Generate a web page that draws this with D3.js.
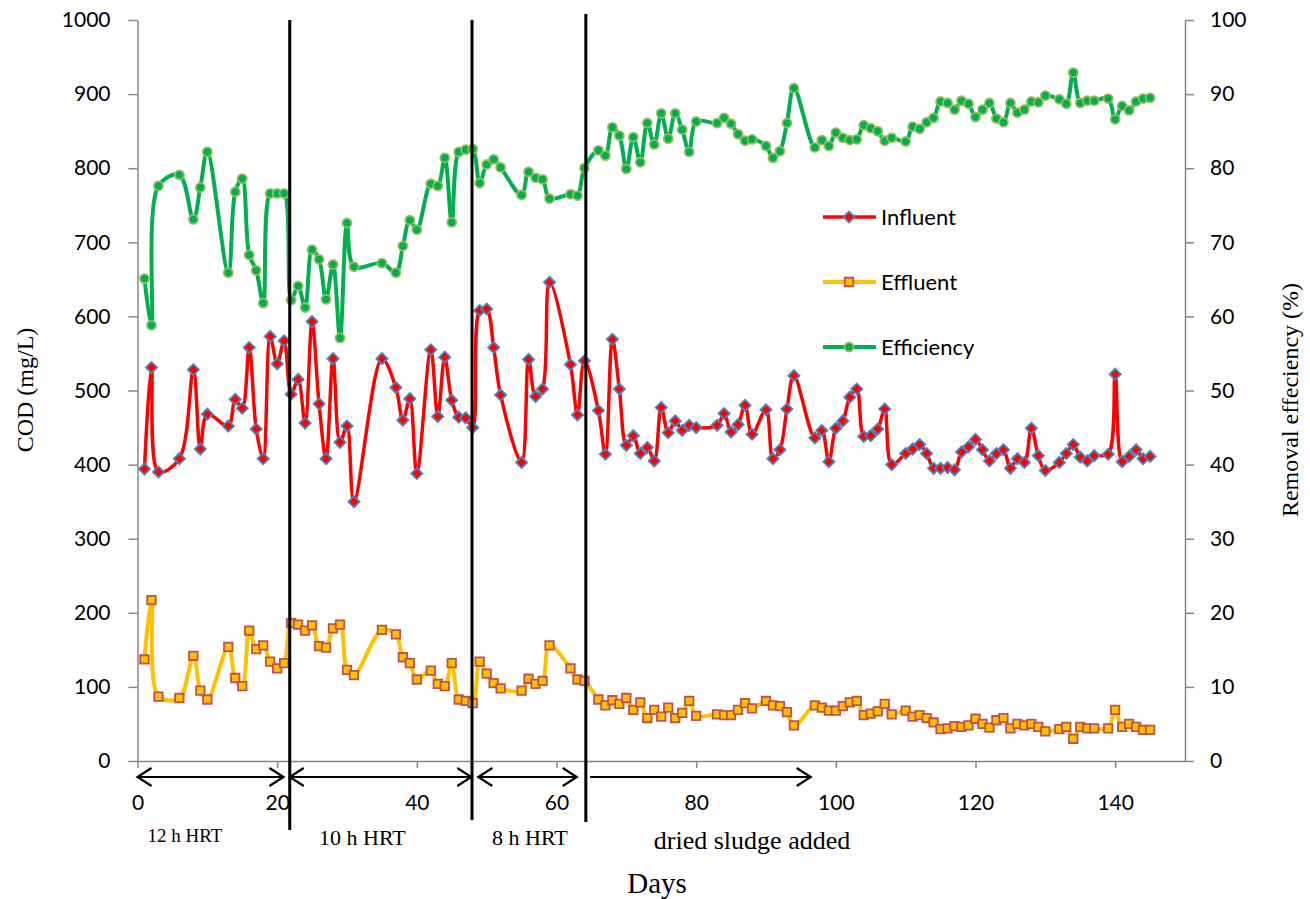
<meta charset="utf-8">
<title>COD removal</title>
<style>
  body { margin: 0; background: #fff; }
  text { fill: #000; }
</style>
<body>
<script src="https://cdn.jsdelivr.net/npm/d3@7"></script>
<script>

var width = 1310;
var height = 899;
var margin = { top: 20, right: 125, bottom: 138, left: 137.5 };

// sampling days
var days = [1,2,3,6,8,9,10,13,14,15,16,17,18,19,20,21,22,23,24,25,26,27,28,29,30,31,35,37,38,39,40,
  42,43,44,45,46,47,48,49,50,51,52,55,56,57,58,59,62,63,64,66,67,68,69,70,71,72,73,74,75,76,77,78,79,80,
  83,84,85,86,87,88,90,91,92,93,94,97,98,99,100,101,102,103,104,105,106,107,108,110,111,112,113,114,115,
  116,117,118,119,120,121,122,123,124,125,126,127,128,129,130,132,133,134,135,136,137,139,140,141,142,143,144,145];

// COD mg/L
var influent = [394,531,390,408,528,421,468,452,488,476,558,448,408,573,536,567,495,515,456,593,482,408,543,430,452,350,
  543,504,460,489,388,555,465,545,487,464,463,450,608,610,558,494,403,542,492,502,646,535,467,540,
  473,414,569,502,426,439,415,423,405,477,443,459,446,453,450,453,469,444,454,480,441,474,408,420,475,520,
  436,446,404,449,459,491,502,438,439,448,475,400,415,421,427,415,395,395,396,393,417,424,434,420,405,415,
  420,395,408,403,449,412,392,403,415,427,410,405,412,414,522,404,411,420,408,411];

var effluent = [137,217,87,85,142,95,83,154,112,101,176,151,156,134,125,132,186,184,176,183,155,153,179,184,123,116,
  177,171,140,132,110,122,104,101,132,83,81,78,134,118,105,98,95,111,104,108,156,125,110,108,
  83,75,82,77,85,69,79,58,69,60,72,58,65,81,61,63,62,62,69,78,71,81,75,74,66,48,
  75,72,68,68,74,79,81,62,64,67,77,63,68,60,62,58,52,43,44,47,46,48,57,50,45,55,
  58,44,50,48,50,46,40,43,46,30,46,44,44,44,69,46,50,46,42,42];

// removal efficiency %
var efficiency = [65.1,58.8,77.6,79.1,73.1,77.4,82.2,65.9,76.8,78.6,68.3,66.2,61.8,76.6,76.6,76.6,62.2,64.1,61.2,69.0,67.7,62.3,67.0,57.1,72.6,66.7,
  67.2,65.9,69.5,73.0,71.7,77.9,77.6,81.4,72.7,82.2,82.5,82.6,78.0,80.5,81.2,80.1,76.4,79.5,78.7,78.5,75.9,76.5,76.3,80.0,
  82.4,81.7,85.5,84.4,79.9,84.2,80.8,86.1,83.2,87.4,84.0,87.4,85.2,82.2,86.3,86.1,86.8,86.0,84.6,83.7,83.9,83.0,81.4,82.3,86.1,90.8,
  82.8,83.8,83.0,84.8,84.1,83.8,83.9,85.8,85.4,85.0,83.7,84.1,83.6,85.6,85.3,86.2,86.8,89.0,88.8,87.9,89.1,88.7,86.9,87.9,88.8,86.7,
  86.2,88.8,87.5,87.9,89.0,88.9,89.8,89.3,88.7,92.9,88.8,89.1,89.1,89.4,86.6,88.4,87.8,89.0,89.4,89.5];

// phase boundaries (days) and labels
var boundaries = [21.8, 47.9, 64.2];
var phaseStart = [0, 21.8, 48.8, 64.8];
var phaseEnd = [20.9, 47.8, 62.9, 96.4];
var phaseLabels = ['12 h HRT', '10 h HRT', '8 h HRT', 'dried sludge added'];
var phaseCenters = [6.8, 32.2, 56.2, 88];

var xTicks = [0,20,40,60,80,100,120,140];
var yTicks = d3.range(0, 1001, 100);
var y2Ticks = d3.range(0, 101, 10);

var svg = d3.select('body').append('svg')
  .attr('width', width)
  .attr('height', height)
  .style('display', 'block');

var x = d3.scaleLinear().domain([0, 150]).range([margin.left, width - margin.right]);
var y = d3.scaleLinear().domain([0, 1000]).range([height - margin.bottom, margin.top]);
var y2 = d3.scaleLinear().domain([0, 100]).range([height - margin.bottom, margin.top]);

var axisColor = '#868686';
var numFont = 'Lato, "Open Sans", sans-serif';
var serif = '"Liberation Serif", "DejaVu Serif", serif';

// axes
var gx = svg.append('g')
  .attr('transform', 'translate(0,' + y(0) + ')')
  .call(d3.axisBottom(x).tickValues(xTicks).tickFormat(d3.format('d')).tickSizeInner(7).tickSizeOuter(0).tickPadding(27));
var gy = svg.append('g')
  .attr('transform', 'translate(' + x(0) + ',0)')
  .call(d3.axisLeft(y).tickValues(yTicks).tickFormat(d3.format('d')).tickSizeInner(9).tickSizeOuter(0).tickPadding(18));
var gy2 = svg.append('g')
  .attr('transform', 'translate(' + x(150) + ',0)')
  .call(d3.axisRight(y2).tickValues(y2Ticks).tickFormat(d3.format('d')).tickSizeInner(9).tickSizeOuter(0).tickPadding(16));

[gx, gy, gy2].forEach(function(g) {
  g.select('.domain').attr('stroke', axisColor).attr('stroke-width', 1.5);
  g.selectAll('.tick line').attr('stroke', axisColor).attr('stroke-width', 1.5);
  g.selectAll('.tick text').style('font-family', numFont).style('font-size', '21px').attr('fill', '#000');
});

// series (influent diamonds = squares turned 45 degrees)
var series = [
  { name: 'Influent', values: influent, scale: y, line: '#FF0000', lw: 3.5,
    sym: d3.symbolSquare, size: 62, rot: 45, fill: '#FF0000', stroke: '#4F81BD' },
  { name: 'Effluent', values: effluent, scale: y, line: '#FFC000', lw: 4,
    sym: d3.symbolSquare, size: 72, rot: 0, fill: '#FFC000', stroke: '#C0504D' },
  { name: 'Efficiency', values: efficiency, scale: y2, line: '#00B050', lw: 4,
    sym: d3.symbolCircle, size: 64, rot: 0, fill: '#00B050', stroke: '#9BBB59' }
];

series.forEach(function(s) {
  var line = d3.line()
    .x(function(d, i) { return x(days[i]); })
    .y(function(d) { return s.scale(d); })
    .curve(d3.curveCatmullRom.alpha(0.5));

  svg.append('path')
    .datum(s.values)
    .attr('fill', 'none')
    .attr('stroke', s.line)
    .attr('stroke-width', s.lw)
    .attr('d', line);

  svg.append('g').selectAll('path')
    .data(s.values)
    .enter()
    .append('path')
    .attr('d', d3.symbol().type(s.sym).size(s.size))
    .attr('transform', function(d, i) {
      return 'translate(' + x(days[i]) + ',' + s.scale(d) + ') rotate(' + s.rot + ')';
    })
    .attr('fill', s.fill)
    .attr('stroke', s.stroke)
    .attr('stroke-width', 1.8);
});

// legend
var legend = svg.append('g');
series.forEach(function(s, i) {
  var ly = 217 + i * 65;
  legend.append('line')
    .attr('x1', 823).attr('x2', 876).attr('y1', ly).attr('y2', ly)
    .attr('stroke', s.line).attr('stroke-width', s.lw);
  legend.append('path')
    .attr('d', d3.symbol().type(s.sym).size(s.size)())
    .attr('transform', 'translate(849,' + ly + ') rotate(' + s.rot + ')')
    .attr('fill', s.fill).attr('stroke', s.stroke).attr('stroke-width', 1.8);
  legend.append('text')
    .attr('x', 881).attr('y', ly)
    .attr('dy', '0.35em')
    .style('font-family', numFont).style('font-size', '22px')
    .text(s.name);
});

// phase separators
var sepBottom = [830, 820, 822];
svg.append('g').selectAll('line')
  .data(boundaries)
  .enter()
  .append('line')
  .attr('x1', function(d) { return x(d); })
  .attr('x2', function(d) { return x(d); })
  .attr('y1', function(d, i) { return i == 2 ? 14 : y(1000); })
  .attr('y2', function(d, i) { return sepBottom[i]; })
  .attr('stroke', '#000')
  .attr('stroke-width', 3);

// phase arrows
var ay = 777;
function head(g, px, dir) {
  g.append('path')
    .attr('d', 'M' + (px - dir * 14) + ',' + (ay - 9) + 'L' + px + ',' + ay + 'L' + (px - dir * 14) + ',' + (ay + 9))
    .attr('fill', 'none').attr('stroke', '#000').attr('stroke-width', 2.2);
}
var arrows = svg.append('g');
phaseStart.forEach(function(d, i) {
  var x1 = x(d), x2 = x(phaseEnd[i]);
  arrows.append('line')
    .attr('x1', x1).attr('x2', x2).attr('y1', ay).attr('y2', ay)
    .attr('stroke', '#000').attr('stroke-width', 2.2);
  head(arrows, x2, 1);
  if (i < 3) head(arrows, x1, -1);
});

var labelSize = [19, 22, 22, 26];
var labelY = [835, 837, 837, 840];
svg.append('g').selectAll('text')
  .data(phaseLabels)
  .enter()
  .append('text')
  .attr('x', function(d, i) { return x(phaseCenters[i]); })
  .attr('y', function(d, i) { return labelY[i]; })
  .attr('dy', '0.35em')
  .attr('text-anchor', 'middle')
  .style('font-family', serif)
  .style('font-size', function(d, i) { return labelSize[i] + 'px'; })
  .text(function(d) { return d; });

// axis titles
svg.append('text')
  .attr('x', 657).attr('y', 883).attr('dy', '0.35em')
  .attr('text-anchor', 'middle')
  .style('font-family', serif).style('font-size', '29px')
  .text('Days');

svg.append('text')
  .attr('transform', 'translate(25,390) rotate(-90)')
  .attr('dy', '0.35em')
  .attr('text-anchor', 'middle')
  .style('font-family', serif).style('font-size', '24px')
  .text('COD (mg/L)');

svg.append('text')
  .attr('transform', 'translate(1290,400) rotate(-90)')
  .attr('dy', '0.35em')
  .attr('text-anchor', 'middle')
  .style('font-family', serif).style('font-size', '24px')
  .text('Removal effeciency (%)');

</script>
